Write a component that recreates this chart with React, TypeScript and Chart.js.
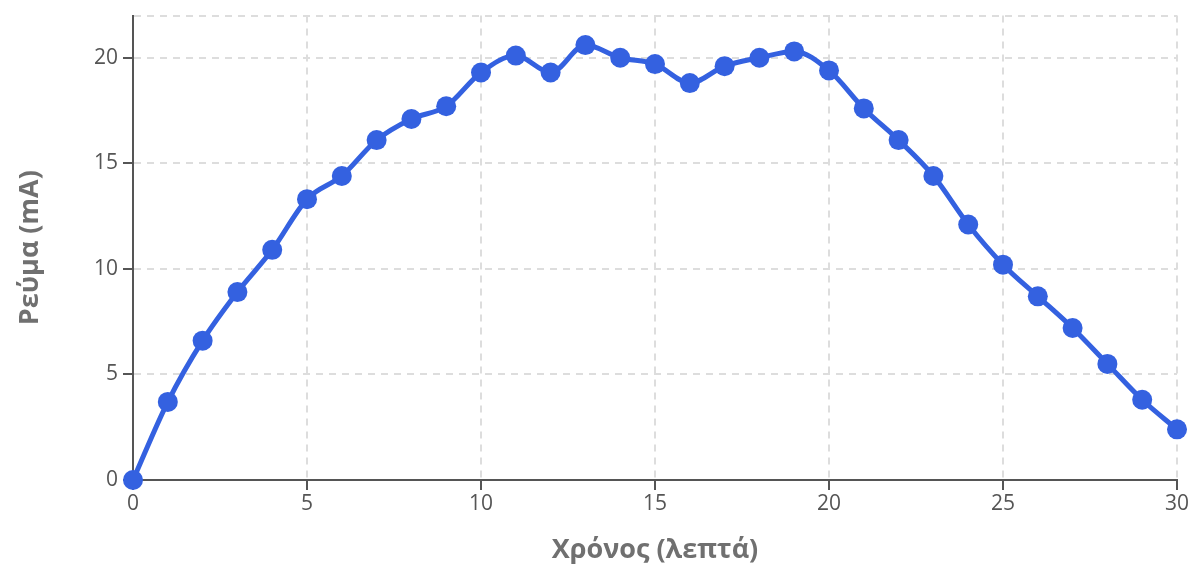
import React, { useEffect, useRef } from "react";
import { Chart, registerables } from "chart.js";

Chart.register(...registerables);

const minutes: number[] = [0, 1, 2, 3, 4, 5, 6, 7, 8, 9, 10, 11, 12, 13, 14, 15, 16, 17, 18, 19, 20, 21, 22, 23, 24, 25, 26, 27, 28, 29, 30];
const currentMA: number[] = [0, 3.7, 6.6, 8.9, 10.9, 13.3, 14.4, 16.1, 17.1, 17.7, 19.3, 20.1, 19.3, 20.6, 20.0, 19.7, 18.8, 19.6, 20.0, 20.3, 19.4, 17.6, 16.1, 14.4, 12.1, 10.2, 8.7, 7.2, 5.5, 3.8, 2.4];
const xTitle = "Χρόνος (λεπτά)";
const yTitle = "Ρεύμα (mA)";

const FONT = "'Open Sans', 'Noto Sans', sans-serif";

export default function App() {
  const ref = useRef<HTMLCanvasElement | null>(null);
  useEffect(() => {
    if (!ref.current) return;
    const chart = new Chart(ref.current, {
      type: "line",
      data: {
        datasets: [
          {
            data: minutes.map((m, i) => ({ x: m, y: currentMA[i] })),
            borderColor: "#3461e0",
            backgroundColor: "#3461e0",
            borderWidth: 5,
            pointRadius: 10,
            pointHoverRadius: 10,
            pointBorderWidth: 0,
            tension: 0.3,
            cubicInterpolationMode: "monotone",
            clip: false,
          },
        ],
      },
      options: {
        animation: false,
        responsive: true,
        maintainAspectRatio: false,
        layout: { padding: { top: 2, right: 18, left: 0, bottom: 0 } },
        plugins: { legend: { display: false }, tooltip: { enabled: false } },
        scales: {
          x: {
            type: "linear",
            min: 0,
            max: 30,
            ticks: { stepSize: 5, color: "#555", font: { family: FONT, size: 21, lineHeight: 1 }, padding: 4 },
            grid: { color: "#dddddd", lineWidth: 2, tickLength: 10, tickColor: "#555", tickWidth: 2 },
            border: { display: true, color: "#555", width: 2, dash: [7, 6] },
            title: { display: true, text: xTitle, color: "#707070", font: { family: FONT, size: 27, weight: "bold", lineHeight: 1 }, padding: { top: 18, bottom: 1 } },
          },
          y: {
            min: 0,
            max: 22,
            ticks: {
              stepSize: 5,
              color: "#555",
              font: { family: FONT, size: 21, lineHeight: 1 },
              padding: 5,
              callback: (v: any) => (Number(v) % 5 === 0 ? String(v) : ""),
            },
            grid: {
              color: "#dddddd",
              lineWidth: 2,
              tickLength: 10,
              tickWidth: 2,
              tickColor: (ctx: any) => (ctx.tick && ctx.tick.value % 5 !== 0 ? "rgba(0,0,0,0)" : "#555"),
            },
            border: { display: true, color: "#555", width: 2, dash: [7, 6] },
            title: { display: true, text: yTitle, color: "#707070", font: { family: FONT, size: 27, weight: "bold", lineHeight: 1 }, padding: { top: 17, bottom: 45 } },
          },
        },
      },
    });
    return () => chart.destroy();
  }, []);
  return (
    <div style={{ position: "absolute", left: 0, top: 0, width: "1195px", height: "565px" }}>
      <canvas ref={ref} />
    </div>
  );
}
